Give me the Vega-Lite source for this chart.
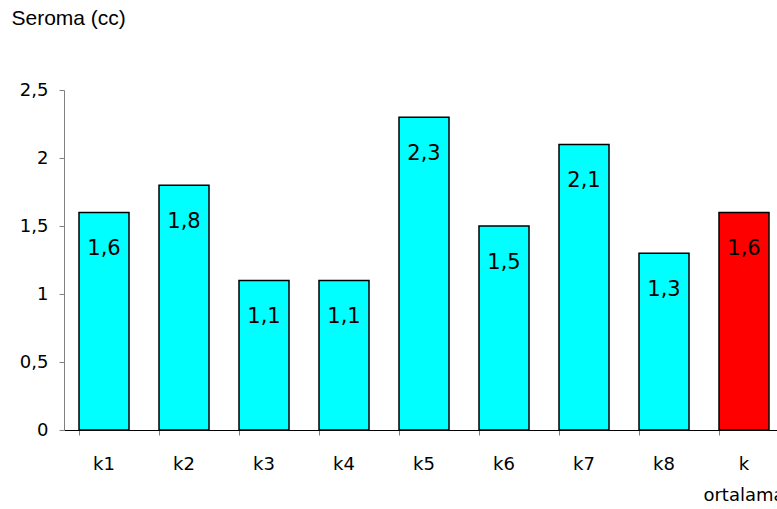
{
  "$schema": "https://vega.github.io/schema/vega-lite/v6.json",
  "width": 720,
  "height": 340,
  "autosize": {"type": "none"},
  "padding": {"left": 64, "top": 90, "right": 0, "bottom": 79},
  "background": "white",
  "data": {
    "values": [
      {"kat": "k1", "seroma": 1.6},
      {"kat": "k2", "seroma": 1.8},
      {"kat": "k3", "seroma": 1.1},
      {"kat": "k4", "seroma": 1.1},
      {"kat": "k5", "seroma": 2.3},
      {"kat": "k6", "seroma": 1.5},
      {"kat": "k7", "seroma": 2.1},
      {"kat": "k8", "seroma": 1.3},
      {"kat": "k ortalama", "seroma": 1.6}
    ]
  },
  "encoding": {
    "x": {
      "field": "kat",
      "type": "nominal",
      "sort": null,
      "scale": {"paddingInner": 0.375, "paddingOuter": 0.1875},
      "axis": {
        "title": null,
        "labelAngle": 0,
        "bandPosition": 0,
        "labelBaseline": "alphabetic",
        "labelPadding": 34,
        "labelLineHeight": 31,
        "labelExpr": "datum.value === 'k ortalama' ? ['k', 'ortalama'] : datum.value",
        "domainColor": "#000000",
        "tickColor": "#808080",
        "tickSize": 5,
        "labelFontSize": 18,
        "labelColor": "#000000",
        "labelFont": "DejaVu Sans"
      }
    },
    "y": {
      "field": "seroma",
      "type": "quantitative",
      "scale": {"domain": [0, 2.5], "nice": false},
      "axis": {
        "title": "Seroma (cc)",
        "titleAngle": 0,
        "titleX": -53,
        "titleY": -72,
        "titleAlign": "left",
        "titleBaseline": "middle",
        "titleFont": "Liberation Sans",
        "titleFontSize": 21,
        "titleFontWeight": "normal",
        "titleColor": "#000000",
        "values": [0, 0.5, 1, 1.5, 2, 2.5],
        "format": "~g",
        "grid": false,
        "domainColor": "#808080",
        "tickColor": "#808080",
        "tickSize": 5,
        "labelPadding": 11,
        "labelFontSize": 18,
        "labelColor": "#000000",
        "labelFont": "DejaVu Sans"
      }
    }
  },
  "layer": [
    {
      "mark": {"type": "bar", "stroke": "#000000", "strokeWidth": 1.5},
      "encoding": {
        "fill": {
          "condition": {"test": "datum.kat === 'k ortalama'", "value": "#ff0000"},
          "value": "#00ffff"
        }
      }
    },
    {
      "mark": {
        "type": "text",
        "dy": 37,
        "baseline": "middle",
        "align": "center",
        "font": "DejaVu Sans",
        "fontSize": 21,
        "color": "#000000"
      },
      "encoding": {
        "text": {"field": "seroma", "type": "quantitative", "format": ".1f"}
      }
    }
  ],
  "config": {
    "view": {"stroke": null},
    "locale": {
      "number": {
        "decimal": ",",
        "thousands": ".",
        "grouping": [3],
        "currency": ["", ""]
      }
    }
  }
}
